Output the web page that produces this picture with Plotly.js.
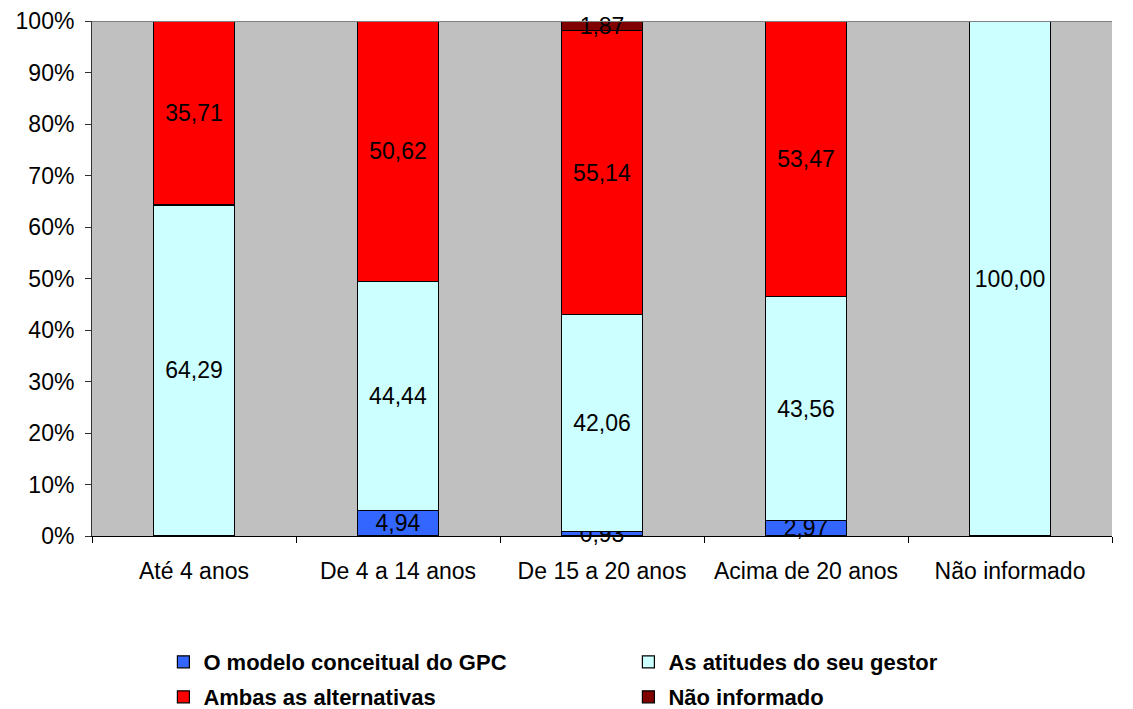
<!DOCTYPE html>
<html>
<head>
<meta charset="utf-8">
<script src="https://cdn.plot.ly/plotly-3.0.1.min.js"></script>
<style>html,body{margin:0;padding:0;background:#fff;}#chart{width:1133px;height:709px;}</style>
</head>
<body>
<div id="chart"></div>
<script>
const categories = ["Até 4 anos", "De 4 a 14 anos", "De 15 a 20 anos", "Acima de 20 anos", "Não informado"];
const seriesNames = ["O modelo conceitual do GPC", "As atitudes do seu gestor", "Ambas as alternativas", "Não informado"];
const modelo = [0, 4.94, 0.93, 2.97, 0];
const atitudes = [64.29, 44.44, 42.06, 43.56, 100.00];
const ambas = [35.71, 50.62, 55.14, 53.47, 0];
const naoInformado = [0, 0, 1.87, 0, 0];
const colors = ["#3366FF", "#CCFFFF", "#FF0000", "#800000"];
const yTickVals = [0, 10, 20, 30, 40, 50, 60, 70, 80, 90, 100];

const allSeries = [modelo, atitudes, ambas, naoInformado];
const fmt = v => v === 0 ? "" : v.toFixed(2).replace(".", ",");
const FONT = "Liberation Sans, Arial, sans-serif";

const traces = allSeries.map((vals, i) => ({
  type: "bar",
  name: seriesNames[i],
  legend: i < 2 ? "legend" : "legend2",
  x: categories,
  y: vals.map(v => v === 0 ? null : v),
  text: vals.map(fmt),
  textposition: "inside",
  insidetextanchor: "middle",
  textangle: 0,
  constraintext: "none",
  cliponaxis: false,
  textfont: {family: FONT, size: 23, color: "#000"},
  marker: {color: colors[i], line: {color: "#000", width: 1.2}},
  hoverinfo: "skip"
}));

const legendCommon = {
  orientation: "h",
  x: 0.07, xanchor: "left",
  yanchor: "middle",
  entrywidth: 420,
  traceorder: "normal",
  font: {family: FONT, size: 22, color: "#000", weight: "bold"},
  bgcolor: "rgba(0,0,0,0)"
};

const layout = {
  width: 1133, height: 709,
  margin: {l: 92, r: 21, t: 21, b: 173, autoexpand: false},
  barmode: "stack",
  bargap: 0.6,
  paper_bgcolor: "#FFFFFF",
  plot_bgcolor: "#C0C0C0",
  font: {family: FONT, size: 23, color: "#000"},
  uniformtext: {mode: "show", minsize: 23},
  showlegend: true,
  xaxis: {
    type: "category",
    showgrid: false,
    showline: true, linecolor: "#000", linewidth: 1,
    ticks: "outside", ticklen: 6, tickcolor: "#000", tickson: "boundaries",
    tickfont: {size: 23},
    ticklabelstandoff: 14,
    zeroline: false
  },
  yaxis: {
    range: [0, 100],
    tickvals: yTickVals,
    ticktext: yTickVals.map(v => v + "%"),
    showgrid: false,
    showline: true, linecolor: "#333", linewidth: 1,
    ticks: "outside", ticklen: 6, tickcolor: "#333",
    tickfont: {size: 23},
    ticklabelstandoff: 6,
    zeroline: false
  },
  shapes: [{type: "line", xref: "paper", yref: "y", x0: 0, x1: 1, y0: 100, y1: 100, line: {color: "#808080", width: 2}}],
  legend: Object.assign({}, legendCommon, {y: -(662 - 536) / 515}),
  legend2: Object.assign({}, legendCommon, {y: -(697 - 536) / 515})
};

Plotly.newPlot("chart", traces, layout, {displayModeBar: false, staticPlot: true});
</script>
</body>
</html>
